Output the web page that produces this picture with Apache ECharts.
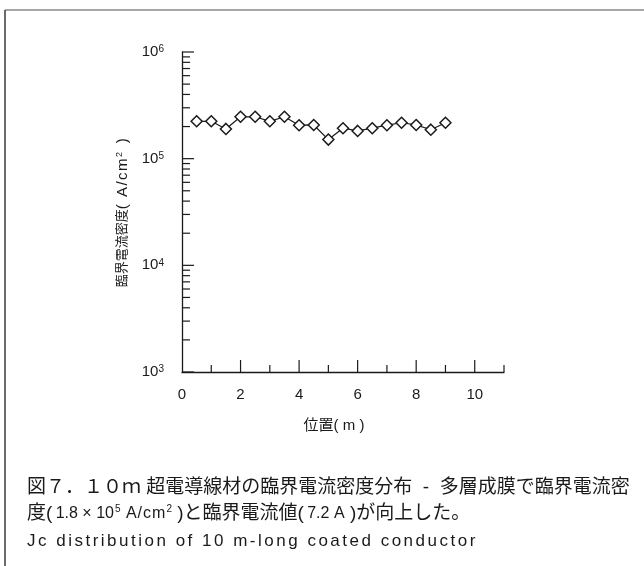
<!DOCTYPE html>
<html>
<head>
<meta charset="utf-8">
<script src="https://cdn.jsdelivr.net/npm/echarts@6/dist/echarts.min.js"></script>
<style>
  html, body { margin: 0; padding: 0; background: #fff; }
  #chart { width: 644px; height: 566px; }
</style>
</head>
<body>
<div id="chart"></div>
<script>
// 位置 (m) と臨界電流密度 (A/cm2)
var positions = [0.5, 1, 1.5, 2, 2.5, 3, 3.5, 4, 4.5, 5, 5.5, 6, 6.5, 7, 7.5, 8, 8.5, 9];
var jcValues = [224000, 224000, 190000, 247000, 247000, 224000, 247000, 206000, 207000,
                151000, 193000, 182000, 193000, 206000, 217000, 207000, 187000, 217000];

// tick values
var xMajorTicks = [2, 4, 6, 8, 10];
var xMinorTicks = [1, 3, 5, 7, 9, 11];
var yMajorTicks = [1e3, 1e4, 1e5, 1e6];
var yMinorTicks = [2e3, 3e3, 4e3, 5e3, 6e3, 7e3, 8e3, 9e3,
                   2e4, 3e4, 4e4, 5e4, 6e4, 7e4, 8e4, 9e4,
                   2e5, 3e5, 4e5, 5e5, 6e5, 7e5, 8e5, 9e5];

var latin = "'Liberation Sans', 'Noto Sans CJK JP', sans-serif";
var ink = '#1a1a1a';

// wrap each character in a rich token so it gets a little letter spacing
function spaced(str, tag) {
  return str.split('').map(function (ch) { return '{' + tag + '|' + ch + '}'; }).join('');
}

// inward tick marks drawn through the axis scales
function tickSeries(data, dir, len) {
  return {
    type: 'custom',
    silent: true,
    clip: false,
    z: 3,
    data: data,
    renderItem: function (params, api) {
      var p = api.coord([api.value(0), api.value(1)]);
      return {
        type: 'line',
        shape: {
          x1: p[0], y1: p[1],
          x2: dir === 'y' ? p[0] + len : p[0],
          y2: dir === 'y' ? p[1] : p[1] - len
        },
        style: { stroke: ink, lineWidth: 1.2 }
      };
    }
  };
}

var chart = echarts.init(document.getElementById('chart'));

var option = {
  animation: false,
  backgroundColor: '#fff',
  grid: { left: 182, top: 52, right: 140, bottom: 194 },
  xAxis: {
    type: 'value',
    min: 0,
    max: 11,
    interval: 2,
    name: '位置( m )',
    nameLocation: 'middle',
    nameGap: 46,
    nameTextStyle: { fontFamily: latin, fontSize: 15, color: ink, padding: [0, 18, 0, 0] },
    axisLine: { show: true, lineStyle: { color: ink, width: 1.3 } },
    axisTick: { show: false },
    splitLine: { show: false },
    axisLabel: {
      margin: 15,
      fontFamily: latin,
      fontSize: 15,
      color: ink,
      formatter: function (v) { return v % 2 === 0 ? String(v) : ''; }
    }
  },
  yAxis: {
    type: 'log',
    logBase: 10,
    min: 1e3,
    max: 1e6,
    name: '{j|臨界電流密度}' + spaced('( A/cm', 'n') + '{s|2}' + spaced(' )', 'n'),
    nameLocation: 'middle',
    nameGap: 52,
    nameTextStyle: {
      color: ink,
      rich: {
        j: { fontFamily: latin, fontSize: 13, color: ink },
        n: { fontFamily: latin, fontSize: 15, color: ink, padding: [0, 1.5, 0, 0] },
        s: { fontFamily: latin, fontSize: 9, color: ink, verticalAlign: 'top', padding: [0, 3, 0, 0] }
      }
    },
    axisLine: { show: true, onZero: false, lineStyle: { color: ink, width: 1.3 } },
    axisTick: { show: false },
    minorTick: { show: false },
    splitLine: { show: false },
    axisLabel: {
      margin: 18,
      color: ink,
      formatter: function (v) {
        return '{b|10}{s|' + Math.round(Math.log10(v)) + '}';
      },
      rich: {
        b: { fontFamily: latin, fontSize: 15, color: ink },
        s: { fontFamily: latin, fontSize: 10, color: ink, verticalAlign: 'top' }
      }
    }
  },
  series: [
    tickSeries(yMajorTicks.map(function (v) { return [0, v]; }), 'y', 12),
    tickSeries(yMinorTicks.map(function (v) { return [0, v]; }), 'y', 8),
    tickSeries(xMajorTicks.map(function (v) { return [v, 1e3]; }), 'x', 12),
    tickSeries(xMinorTicks.map(function (v) { return [v, 1e3]; }), 'x', 7),
    {
      type: 'line',
      data: positions.map(function (x, i) { return [x, jcValues[i]]; }),
      symbol: 'diamond',
      symbolSize: 11,
      showAllSymbol: true,
      z: 5,
      lineStyle: { color: ink, width: 1.2 },
      itemStyle: { color: '#fff', borderColor: ink, borderWidth: 1.5 }
    }
  ],
  graphic: [
    { type: 'line', shape: { x1: 5, y1: 10, x2: 644, y2: 10 }, style: { stroke: '#8a8a8a', lineWidth: 1.5 } },
    { type: 'line', shape: { x1: 5, y1: 10, x2: 5, y2: 566 }, style: { stroke: '#3a3a3a', lineWidth: 1.5 } },
    {
      type: 'text', x: 27, y: 488,
      style: {
        text: '図７．１０ｍ 超電導線材の臨界電流密度分布  -  多層成膜で臨界電流密',
        font: '19px ' + latin, fill: ink, verticalAlign: 'middle'
      }
    },
    {
      type: 'text', x: 27, y: 514,
      style: {
        text: '{j|度(} {n|1.8 × 10}{s|5}' + spaced(' A/cm', 'n') + '{s|2}{j| )と臨界電流値(} {n|7.2 A }{j|)が向上した。}',
        verticalAlign: 'middle',
        rich: {
          j: { fontFamily: latin, fontSize: 19, fill: ink },
          n: { fontFamily: latin, fontSize: 16, fill: ink, padding: [0, 1, 0, 0] },
          s: { fontFamily: latin, fontSize: 10, fill: ink, verticalAlign: 'top' }
        }
      }
    },
    {
      type: 'text', x: 27, y: 541,
      style: {
        text: spaced('Jc distribution of 10 m-long coated conductor', 'c'),
        verticalAlign: 'middle',
        rich: {
          c: { fontFamily: latin, fontSize: 17, fill: ink, padding: [0, 2.5, 0, 0] }
        }
      }
    }
  ]
};

chart.setOption(option);
</script>
</body>
</html>
